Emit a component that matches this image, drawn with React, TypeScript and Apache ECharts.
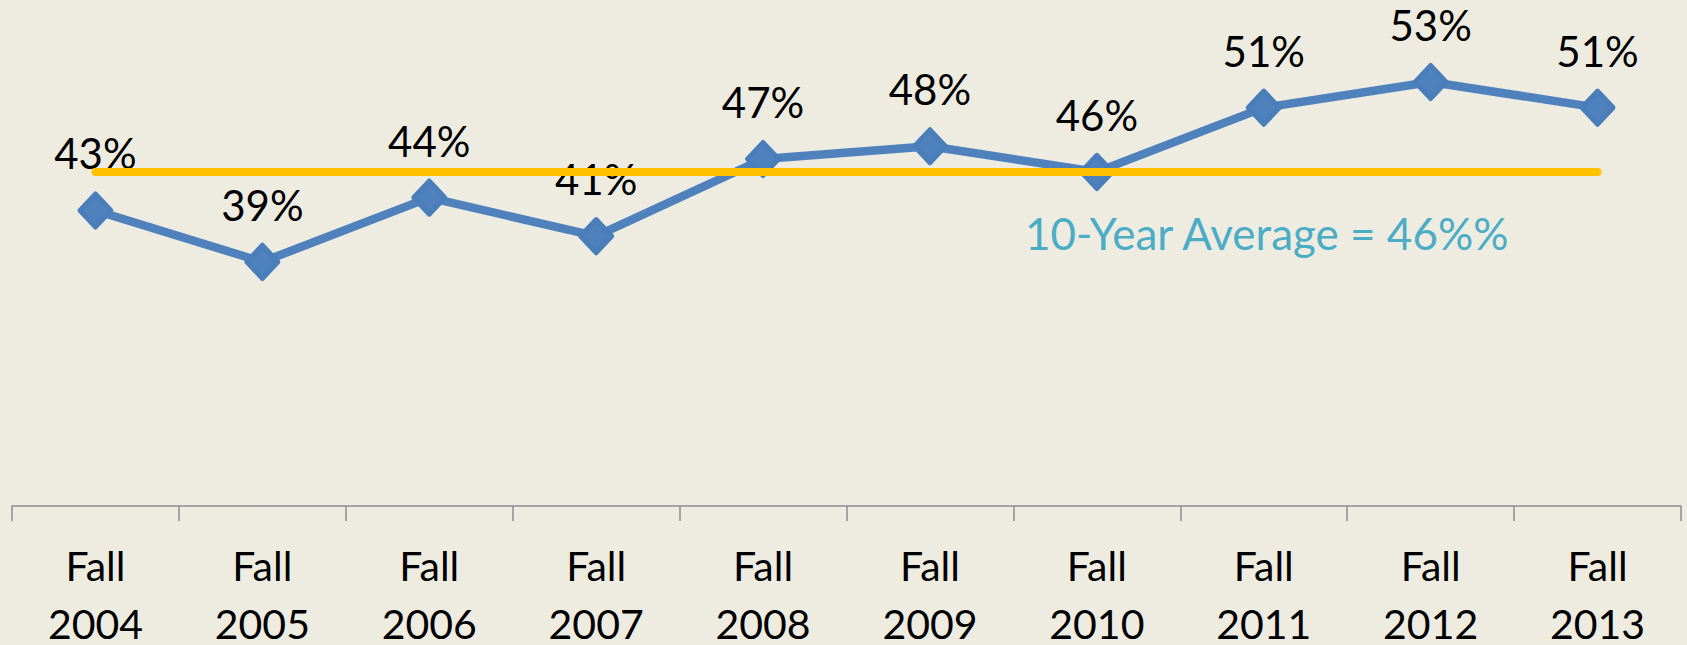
import React, { useEffect, useRef } from "react";
import * as echarts from "echarts";

const categories = ["Fall\n2004", "Fall\n2005", "Fall\n2006", "Fall\n2007", "Fall\n2008", "Fall\n2009", "Fall\n2010", "Fall\n2011", "Fall\n2012", "Fall\n2013"];
const rates = [43, 39, 44, 41, 47, 48, 46, 51, 53, 51];
const averageLine = [46, 46, 46, 46, 46, 46, 46, 46, 46, 46];
const averageText = "10-Year Average = 46%%";

export default function App() {
  const ref = useRef<HTMLDivElement>(null);
  useEffect(() => {
    if (!ref.current) return;
    const chart = echarts.init(ref.current, undefined, { renderer: "svg" });
    const font = "Lato";
    chart.setOption({
      animation: false,
      backgroundColor: "#EEECE1",
      grid: { left: 12, right: 6, top: -8, bottom: 139, outerBoundsMode: "none", containLabel: false },
      xAxis: {
        type: "category",
        data: categories,
        boundaryGap: true,
        axisLine: { lineStyle: { color: "#8C8C8C", width: 1.5 } },
        axisTick: { show: true, length: 15, lineStyle: { color: "#8C8C8C", width: 1.5 } },
        axisLabel: { color: "#000", fontFamily: font, fontSize: 41, lineHeight: 58, margin: 30 },
      },
      yAxis: { type: "value", min: 20, max: 60, show: false, splitLine: { show: false } },
      series: [
        {
          type: "line",
          data: rates,
          z: 2,
          symbol: "diamond",
          symbolSize: [31, 33],
          lineStyle: { color: "#4F81BD", width: 8.5 },
          itemStyle: { color: "#4F81BD", borderColor: "#4A7EBB", borderWidth: 5, borderJoin: "round" },
          label: {
            show: true,
            position: "top",
            distance: 17,
            color: "#000",
            fontFamily: font,
            fontSize: 42,
            formatter: (p: any) => p.value + "%",
          },
        },
        {
          type: "line",
          data: averageLine,
          z: 3,
          symbol: "none",
          lineStyle: { color: "#FFC000", width: 8, cap: "round" },
          silent: true,
        },
      ],
      graphic: [
        {
          type: "text",
          left: 1025,
          top: 211,
          style: { text: averageText, fill: "#4BACC6", font: `44px ${font}` },
        },
      ],
    });
    return () => chart.dispose();
  }, []);
  return <div ref={ref} style={{ position: "absolute", left: 0, top: 0, width: 1687, height: 645 }} />;
}
